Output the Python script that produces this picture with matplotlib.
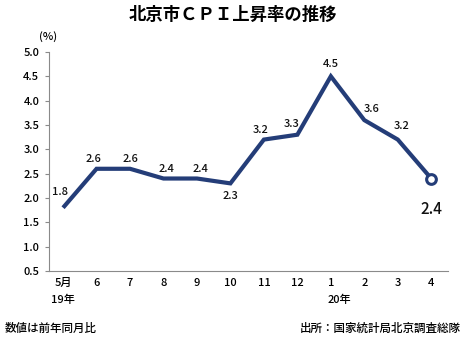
import matplotlib.pyplot as plt
from matplotlib.transforms import blended_transform_factory

plt.rcParams['font.family'] = ['Noto Sans CJK JP', 'DejaVu Sans']
plt.rcParams['font.weight'] = 'medium'

months = ["5月", "6", "7", "8", "9", "10", "11", "12", "1", "2", "3", "4"]
years = {0: "19年", 8: "20年"}
cpi = [1.8, 2.6, 2.6, 2.4, 2.4, 2.3, 3.2, 3.3, 4.5, 3.6, 3.2, 2.4]
# label offsets in pixels (dx, dy) from each point
offsets_px = [(-3, 16), (-3, 10), (0, 10), (3, 10), (4, 10), (0, -13),
              (-3, 10), (-6, 11), (0, 12), (7, 11), (4, 14), (0, -31)]

navy = "#243d78"
grey = "#8a8a8a"

fig = plt.figure(figsize=(4.65, 3.46), dpi=100)
ax = fig.add_axes([0.1054, 0.2168, 0.858, 0.633])

x = list(range(len(cpi)))
ax.plot(x, cpi, color=navy, lw=3.0, solid_capstyle="butt", solid_joinstyle="miter")
ax.plot(x[-1], cpi[-1], "o", ms=7, mfc="white", mec=navy, mew=2.2)

for i, v in enumerate(cpi):
    big = i == len(cpi) - 1
    dx, dy = offsets_px[i]
    ax.annotate(f"{v:.1f}", (i, v), xytext=(dx * 0.72, dy * 0.72),
                textcoords="offset points", ha="center", va="center",
                fontsize=11 if big else 8, color="#111111")

ax.set_xlim(-0.42, 11.5)
ax.set_ylim(0.5, 5.0)
yt = [0.5, 1.0, 1.5, 2.0, 2.5, 3.0, 3.5, 4.0, 4.5, 5.0]
ax.set_yticks(yt)
ax.set_yticklabels([f"{t:.1f}" for t in yt], fontsize=8)
ax.set_xticks(x)
ax.set_xticklabels(months, fontsize=8)

# year markers under the month labels
trans = blended_transform_factory(ax.transData, fig.transFigure)
ax.text(0, 1 - 300 / 346, years[0], transform=trans, ha="center", va="center",
        fontsize=8)
ax.text(7.9, 1 - 300 / 346, years[8], transform=trans, ha="left", va="center",
        fontsize=8)

ax.spines["top"].set_visible(False)
ax.spines["right"].set_visible(False)
for s in ("left", "bottom"):
    ax.spines[s].set_color(grey)
    ax.spines[s].set_linewidth(0.8)
ax.tick_params(axis="y", length=3, color=grey, pad=4)
ax.tick_params(axis="x", length=0, pad=5)

fig.text(0.5, 0.958, "北京市ＣＰＩ上昇率の推移", ha="center", va="center",
         fontsize=12.5, fontweight="bold")
fig.text(0.083, 0.895, "(%)", ha="left", va="center", fontsize=8)
fig.text(0.011, 0.05, "数値は前年同月比", ha="left", va="center", fontsize=8.3)
fig.text(0.99, 0.05, "出所：国家統計局北京調査総隊", ha="right", va="center",
         fontsize=8.3)

fig.savefig("out.png", dpi=100)
